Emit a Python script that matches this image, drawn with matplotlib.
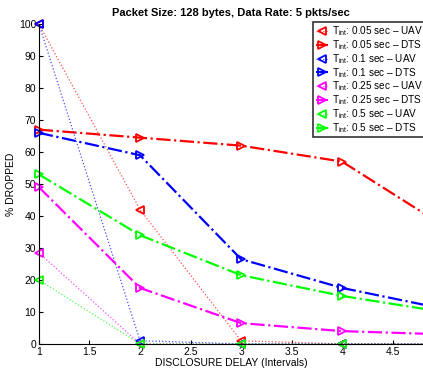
import matplotlib
matplotlib.use("Agg")
import matplotlib.pyplot as plt
from matplotlib.colors import to_rgba

plt.rcParams['font.family'] = ['Liberation Sans', 'DejaVu Sans']
plt.rcParams['mathtext.fontset'] = 'custom'
plt.rcParams['mathtext.rm'] = 'Liberation Sans'

delay = [1, 2, 3, 4, 5]

uav_005 = [100, 42, 1, 0, 0]
dts_005 = [67, 64.5, 62, 57, 37]
uav_01 = [100, 1, 0, 0, 0]
dts_01 = [66, 59, 26.5, 17.5, 11]
uav_025 = [28.5, 0, 0, 0, 0]
dts_025 = [49, 17.5, 6.5, 4, 3]
uav_05 = [20, 0, 0, 0, 0]
dts_05 = [53, 34, 21.5, 15, 10]

series = [
    ("0.05", "red", uav_005, dts_005),
    ("0.1", "blue", uav_01, dts_01),
    ("0.25", "magenta", uav_025, dts_025),
    ("0.5", "#00ff00", uav_05, dts_05),
]

fig = plt.figure(figsize=(4.23, 3.71), dpi=100)
ax = fig.add_axes([0.092, 0.073, 0.908, 0.862])

for t, c, uav, dts in series:
    ax.plot(delay, uav, linestyle=':', color=to_rgba(c, 0.7), lw=0.9, marker='<',
            ms=6, mfc='none', mec=c, mew=1.3, clip_on=False,
            label=r"T$_{\mathrm{int}}$: " + t + " sec \u2013 UAV")
    ax.plot(delay, dts, linestyle='-.', color=c, lw=1.6, marker='>', ms=6,
            mfc='none', mew=1.3, clip_on=False,
            label=r"T$_{\mathrm{int}}$: " + t + " sec \u2013 DTS")

ax.set_xlim(1, 4.8)
ax.set_ylim(0, 100)
ax.set_xticks([1, 1.5, 2, 2.5, 3, 3.5, 4, 4.5])
ax.set_xticklabels(["1", "1.5", "2", "2.5", "3", "3.5", "4", "4.5"])
ax.set_yticks(range(0, 101, 10))
ax.tick_params(direction='in', labelsize=7.5, length=3, pad=2)
ax.spines['top'].set_visible(False)
ax.spines['right'].set_visible(False)
ax.set_xlabel("DISCLOSURE DELAY (Intervals)", fontsize=7.5, labelpad=1)
ax.set_ylabel("% DROPPED", fontsize=7.5, labelpad=2)
ax.set_title("Packet Size: 128 bytes, Data Rate: 5 pkts/sec", fontsize=8,
             fontweight='bold', pad=6)

leg = ax.legend(loc='upper left', bbox_to_anchor=(313 / 423, 1 - 22 / 371),
                bbox_transform=fig.transFigure, fontsize=7.2, frameon=True,
                fancybox=False, handlelength=1.2, handletextpad=0.4,
                labelspacing=0.0, borderpad=0.25, borderaxespad=0)
leg.get_frame().set_edgecolor('black')
leg.get_frame().set_linewidth(1.2)
leg.set_zorder(5)

fig.savefig("out.png", dpi=100)
